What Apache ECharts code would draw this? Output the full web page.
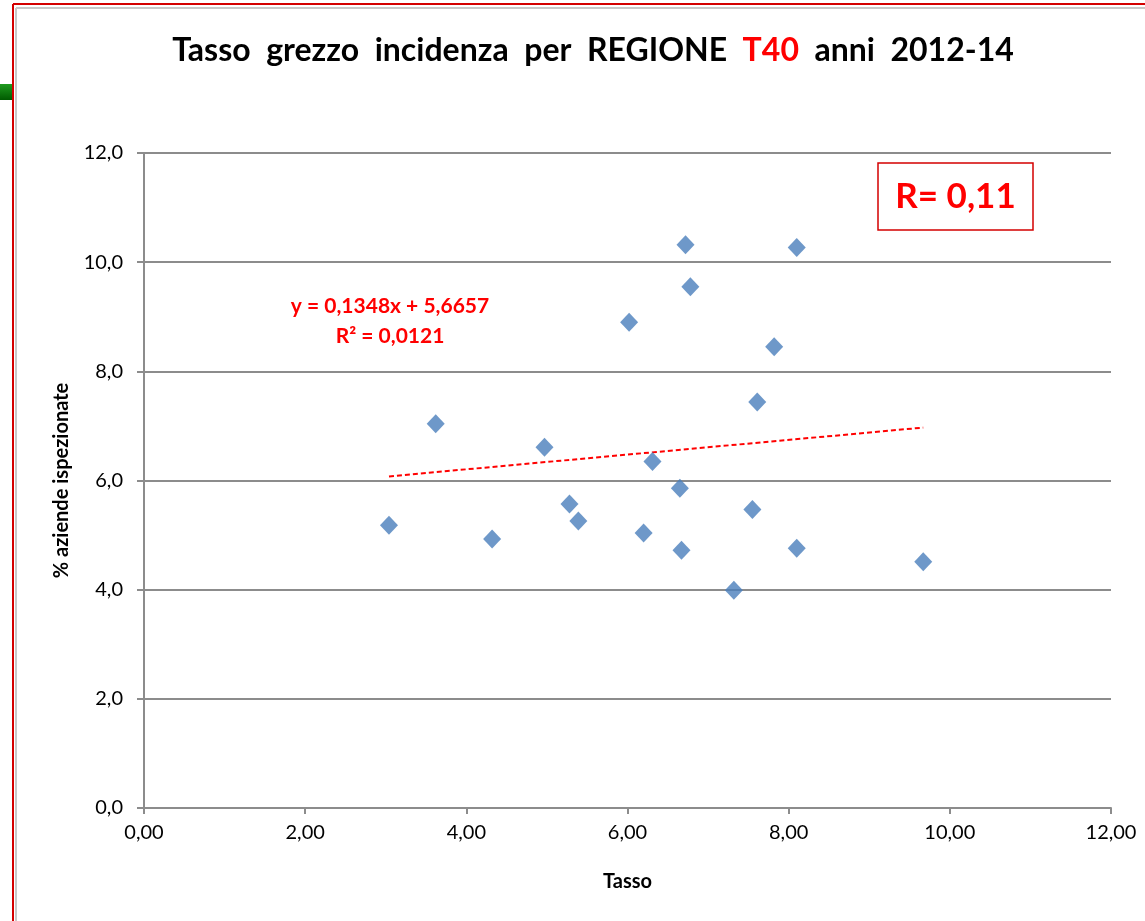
<!DOCTYPE html>
<html>
<head>
<meta charset="utf-8">
<script src="https://cdn.jsdelivr.net/npm/echarts@6/dist/echarts.min.js"></script>
<style>
html,body{margin:0;padding:0;background:#fff;}
#c{width:1145px;height:921px;}
</style>
</head>
<body>
<div id="c"></div>
<script>
// Data
var tasso = [3.04, 3.62, 4.32, 4.97, 5.28, 5.39, 6.02, 6.20, 6.31, 6.65, 6.67, 6.72, 6.78, 7.32, 7.55, 7.61, 7.82, 8.10, 8.10, 9.67];
var aziende = [5.18, 7.04, 4.93, 6.61, 5.57, 5.26, 8.90, 5.04, 6.35, 5.86, 4.72, 10.32, 9.55, 3.99, 5.47, 7.44, 8.45, 4.76, 10.27, 4.51];
var trendSlope = 0.1348;
var trendIntercept = 5.6657;
var xTicks = [0, 2, 4, 6, 8, 10, 12];
var yTicks = [0, 2, 4, 6, 8, 10, 12];

var points = tasso.map(function (x, i) { return [x, aziende[i]]; });
var xMin = Math.min.apply(null, tasso), xMax = Math.max.apply(null, tasso);
var trend = [[xMin, trendSlope * xMin + trendIntercept], [xMax, trendSlope * xMax + trendIntercept]];

var FONT = 'Lato, "Open Sans", sans-serif';
var chart = echarts.init(document.getElementById('c'), null, {renderer: 'canvas'});
chart.setOption({
  animation: false,
  backgroundColor: '#fff',
  textStyle: {fontFamily: FONT},
  title: {
    text: '{b|Tasso  grezzo  incidenza  per  REGIONE  }{r|T40}{b|  anni  2012-14}',
    left: 588, top: 30, textAlign: 'center',
    textStyle: {
      rich: {
        b: {fontFamily: FONT, fontWeight: 'bold', fontSize: 32, color: '#000'},
        r: {fontFamily: FONT, fontWeight: 'bold', fontSize: 32, color: '#ff0000'}
      }
    }
  },
  grid: {left: 144, right: 34, top: 153, bottom: 113, containLabel: false},
  xAxis: {
    type: 'value', min: xTicks[0], max: xTicks[xTicks.length - 1], interval: 2,
    name: 'Tasso', nameLocation: 'middle', nameGap: 64,
    nameTextStyle: {fontFamily: FONT, fontWeight: 'bold', fontSize: 20, color: '#000'},
    axisLine: {show: true, lineStyle: {color: '#8c8c8c', width: 2}},
    axisTick: {show: true, length: 6, lineStyle: {color: '#8c8c8c', width: 2}},
    axisLabel: {fontFamily: FONT, fontSize: 20, color: '#000', margin: 15,
      formatter: function (v) { return v.toFixed(2).replace('.', ','); }},
    splitLine: {show: false}
  },
  yAxis: {
    type: 'value', min: yTicks[0], max: yTicks[yTicks.length - 1], interval: 2,
    name: '% aziende ispezionate', nameLocation: 'middle', nameGap: 72,
    nameTextStyle: {fontFamily: FONT, fontWeight: 'bold', fontSize: 20, color: '#000'},
    axisLine: {show: true, lineStyle: {color: '#8c8c8c', width: 2}},
    axisTick: {show: true, length: 7, lineStyle: {color: '#8c8c8c', width: 2}},
    axisLabel: {fontFamily: FONT, fontSize: 20, color: '#000', margin: 21,
      formatter: function (v) { return v.toFixed(1).replace('.', ','); }},
    splitLine: {show: true, lineStyle: {color: '#8c8c8c', width: 2}}
  },
  series: [
    {
      type: 'scatter', data: points, symbol: 'diamond', symbolSize: [18, 19],
      itemStyle: {color: '#4a7ebb'}, z: 3
    },
    {
      type: 'line', data: trend, symbol: 'none', silent: true,
      lineStyle: {color: '#ff0000', width: 2, type: [5, 3]}, z: 2
    }
  ],
  graphic: [
    {type: 'rect', shape: {x: 0, y: 84, width: 14, height: 16},
      style: {fill: new echarts.graphic.LinearGradient(0, 0, 0, 1, [{offset: 0, color: '#1f9a1f'}, {offset: 1, color: '#005a00'}])}},
    {type: 'line', shape: {x1: 16, y1: 8, x2: 16, y2: 921}, style: {stroke: '#c8c8c8', lineWidth: 2}},
    {type: 'line', shape: {x1: 16, y1: 8, x2: 1145, y2: 8}, style: {stroke: '#c8c8c8', lineWidth: 2}},
    {type: 'line', shape: {x1: 13, y1: 4, x2: 13, y2: 921}, style: {stroke: '#d40000', lineWidth: 2}},
    {type: 'line', shape: {x1: 13, y1: 4, x2: 1145, y2: 4}, style: {stroke: '#d40000', lineWidth: 2}},
    {type: 'rect', shape: {x: 878, y: 163, width: 155, height: 67},
      style: {fill: '#fff', stroke: '#d40000', lineWidth: 1.5}},
    {type: 'text', x: 955.5, y: 197, style: {text: 'R= 0,11', fill: '#ff0000',
      font: 'bold 35px ' + FONT, textAlign: 'center', textVerticalAlign: 'middle'}},
    {type: 'text', x: 390, y: 306, style: {text: 'y = 0,1348x + 5,6657', fill: '#ff0000',
      font: 'bold 21px ' + FONT, textAlign: 'center', textVerticalAlign: 'middle'}},
    {type: 'text', x: 390, y: 336, style: {text: 'R² = 0,0121', fill: '#ff0000',
      font: 'bold 21px ' + FONT, textAlign: 'center', textVerticalAlign: 'middle'}}
  ]
});
</script>
</body>
</html>
